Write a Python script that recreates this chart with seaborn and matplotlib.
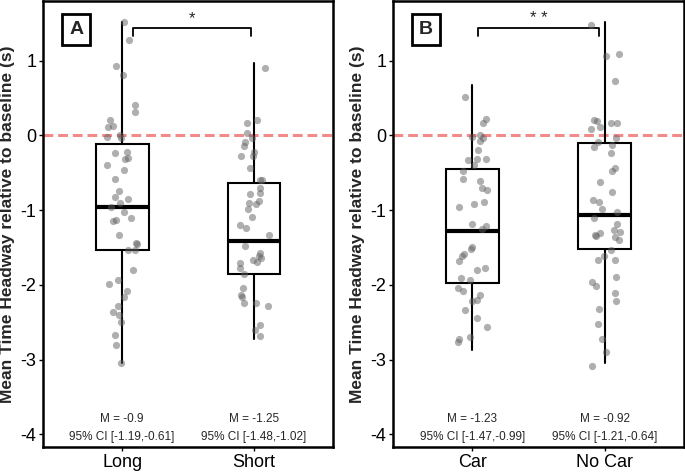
import numpy as np
import pandas as pd
import matplotlib
matplotlib.use("Agg")
import matplotlib.pyplot as plt
import seaborn as sns

# values (mean time headway change, s)
long_vals = [1.52, 1.28, 0.93, 0.81, 0.41, 0.32, 0.21, 0.13, 0.11, 0.0, -0.02, -0.04,
             -0.22, -0.24, -0.30, -0.32, -0.40, -0.46, -0.58, -0.74, -0.82, -0.85,
             -0.90, -0.96, -1.02, -1.11, -1.13, -1.15, -1.33, -1.44, -1.45, -1.53,
             -1.54, -1.80, -1.93, -1.99, -2.08, -2.16, -2.28, -2.36, -2.41, -2.50,
             -2.67, -2.81, -3.05]
short_vals = [0.90, 0.21, 0.16, 0.03, -0.04, -0.09, -0.14, -0.22, -0.27, -0.28, -0.43,
              -0.59, -0.60, -0.71, -0.77, -0.79, -0.88, -0.90, -0.92, -0.98, -1.09,
              -1.20, -1.24, -1.33, -1.48, -1.58, -1.62, -1.64, -1.67, -1.69, -1.71,
              -1.78, -1.85, -2.04, -2.14, -2.16, -2.24, -2.24, -2.28, -2.54, -2.61,
              -2.69]
car_vals = [0.52, 0.22, 0.16, 0.0, -0.02, -0.04, -0.07, -0.19, -0.31, -0.32, -0.33,
            -0.40, -0.47, -0.58, -0.61, -0.70, -0.73, -0.89, -0.92, -0.96, -1.18,
            -1.21, -1.25, -1.50, -1.52, -1.59, -1.61, -1.68, -1.77, -1.80, -1.91,
            -1.93, -2.04, -2.08, -2.13, -2.20, -2.21, -2.33, -2.44, -2.57, -2.70,
            -2.73, -2.76]
nocar_vals = [1.48, 1.09, 1.06, 0.73, 0.20, 0.19, 0.16, 0.16, 0.11, 0.09, -0.04, -0.09,
              -0.13, -0.15, -0.23, -0.44, -0.47, -0.62, -0.76, -0.86, -0.89, -0.98,
              -1.02, -1.11, -1.18, -1.27, -1.29, -1.31, -1.33, -1.35, -1.36, -1.40,
              -1.53, -1.62, -1.67, -1.67, -1.89, -1.96, -2.01, -2.11, -2.22, -2.32,
              -2.53, -2.72, -2.90, -3.08]

# box summaries as drawn (whisker low, Q1, median, Q3, whisker high)
long_box = [-3.05, -1.54, -0.96, -0.11, 1.52]
short_box = [-2.72, -1.85, -1.41, -0.64, 0.97]
car_box = [-2.87, -1.98, -1.28, -0.45, 0.67]
nocar_box = [-3.05, -1.52, -1.07, -0.10, 1.52]

panel_a_groups = ["Long", "Short"]
panel_b_groups = ["Car", "No Car"]
means_a = ["M = -0.9", "M = -1.25"]
ci_a = ["95% CI [-1.19,-0.61]", "95% CI [-1.48,-1.02]"]
means_b = ["M = -1.23", "M = -0.92"]
ci_b = ["95% CI [-1.47,-0.99]", "95% CI [-1.21,-0.64]"]

df_a = pd.DataFrame({
    "group": ["Long"] * len(long_vals) + ["Short"] * len(short_vals),
    "thw": long_vals + short_vals,
})
df_b = pd.DataFrame({
    "group": ["Car"] * len(car_vals) + ["No Car"] * len(nocar_vals),
    "thw": car_vals + nocar_vals,
})

sns.set_style("white")
plt.rcParams["font.family"] = ["Liberation Sans", "DejaVu Sans"]
plt.rcParams["axes.unicode_minus"] = False
np.random.seed(3)

fig = plt.figure(figsize=(6.85, 4.72), dpi=100)
ax_a = fig.add_axes([0.063, 0.053, 0.423, 0.945])
ax_b = fig.add_axes([0.574, 0.053, 0.4245, 0.945])


def box_stats(vals):
    return {"whislo": vals[0], "q1": vals[1], "med": vals[2], "q3": vals[3],
            "whishi": vals[4], "fliers": []}


def draw_panel(ax, df, order, boxes, means, cis, letter, stars):
    ax.axhline(0, color="#f28a8a", linestyle=(0, (3.2, 1.6)), linewidth=2.2, zorder=1)
    sns.stripplot(data=df, x="group", y="thw", order=order, ax=ax, jitter=0.12,
                  color="#606060", alpha=0.5, size=5.2, linewidth=0, zorder=3)
    ax.bxp([box_stats(b) for b in boxes], positions=[0, 1], widths=0.4,
           showcaps=False, showfliers=False, patch_artist=True, manage_ticks=False,
           boxprops={"facecolor": "white", "edgecolor": "black", "linewidth": 1.5},
           whiskerprops={"color": "black", "linewidth": 1.5},
           medianprops={"color": "black", "linewidth": 3})
    ax.set_xlim(-0.6, 1.6)
    ax.set_ylim(-4.17, 1.8)
    ax.set_yticks([-4, -3, -2, -1, 0, 1])
    ax.set_xlabel("")
    ax.set_ylabel("Mean Time Headway relative to baseline (s)", fontsize=12.5,
                  fontweight="bold", labelpad=4)
    ax.tick_params(axis="both", labelsize=13, length=3, width=1, color="black",
                   labelcolor="black", pad=2, left=True, bottom=True)
    for sp in ax.spines.values():
        sp.set_visible(True)
        sp.set_color("black")
        sp.set_linewidth(1.8)
    for i in range(2):
        ax.text(i, -3.79, means[i], ha="center", va="center", fontsize=8.5)
        ax.text(i, -4.04, cis[i], ha="center", va="center", fontsize=8.5)
    ax.text(-0.35, 1.42, letter, ha="center", va="center", fontsize=14,
            fontweight="bold",
            bbox=dict(boxstyle="square,pad=0.35", facecolor="white",
                      edgecolor="black", linewidth=2))
    x0, x1 = stars[0], stars[1]
    ax.plot([x0, x0, x1, x1], [1.33, 1.44, 1.44, 1.33], color="black", linewidth=1.3)
    ax.text((x0 + x1) / 2, 1.46, stars[2], ha="center", va="bottom", fontsize=12)


draw_panel(ax_a, df_a, panel_a_groups, [long_box, short_box], means_a, ci_a, "A",
           (0.08, 0.98, "*"))
draw_panel(ax_b, df_b, panel_b_groups, [car_box, nocar_box], means_b, ci_b, "B",
           (0.045, 0.955, "* *"))

fig.savefig("out.png", dpi=100)
